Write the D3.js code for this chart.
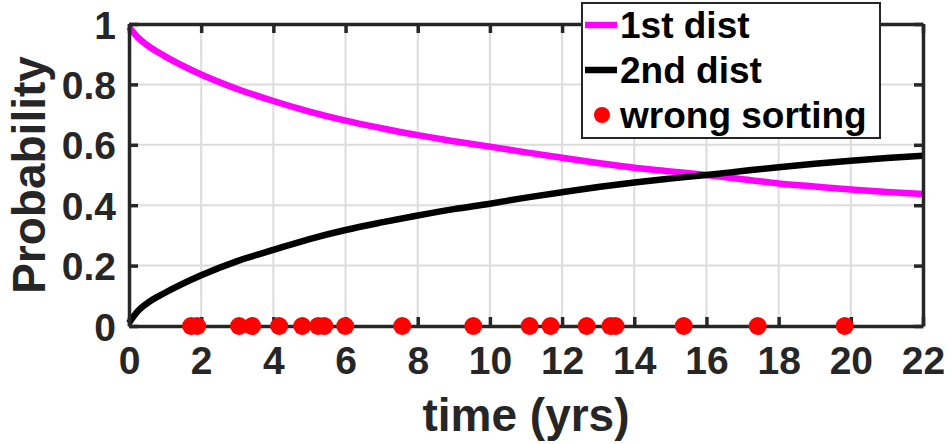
<!DOCTYPE html>
<html>
<head>
<meta charset="utf-8">
<script src="https://cdn.jsdelivr.net/npm/d3@7"></script>
<style>
  body { margin: 0; background: #fff; }
  svg { display: block; }
</style>
</head>
<body>
<div id="chart"></div>
<script>
// values
let times = [0, 0.25, 0.5, 1, 2, 3, 4, 5, 6, 7, 8, 9, 10, 11, 12, 13, 14, 15, 16, 17, 18, 19, 20, 21, 22];
let first_dist = [0.99, 0.955, 0.93, 0.893, 0.833, 0.785, 0.745, 0.71, 0.68, 0.655, 0.632, 0.612, 0.594, 0.575, 0.557, 0.54, 0.524, 0.512, 0.5, 0.486, 0.472, 0.462, 0.452, 0.444, 0.437];
let second_dist = [0.01, 0.05, 0.075, 0.11, 0.168, 0.215, 0.252, 0.288, 0.318, 0.343, 0.366, 0.387, 0.405, 0.425, 0.443, 0.46, 0.475, 0.488, 0.5, 0.513, 0.526, 0.537, 0.547, 0.556, 0.564];
let wrong_sorting = [1.72, 1.89, 3.05, 3.41, 4.16, 4.8, 5.24, 5.41, 5.99, 7.57, 9.54, 11.1, 11.68, 12.68, 13.34, 13.48, 15.37, 17.42, 19.83];
let x_ticks = [0, 2, 4, 6, 8, 10, 12, 14, 16, 18, 20, 22];
let y_ticks = [0, 0.2, 0.4, 0.6, 0.8, 1];
let legend_labels = ["1st dist", "2nd dist", "wrong sorting"];

let width = 952, height = 444;
let plot = { left: 129, right: 923, top: 24, bottom: 326 };
let axis_color = "#262626";
let font = "'Liberation Sans', Arial, Helvetica, sans-serif";

let x = d3.scaleLinear().domain([0, 22]).range([plot.left, plot.right]);
let y = d3.scaleLinear().domain([0, 1]).range([plot.bottom, plot.top]);

let svg = d3.select("#chart").append("svg")
    .attr("width", width)
    .attr("height", height);

// grid
svg.append("g")
    .selectAll("line")
    .data(x_ticks.slice(1, -1))
    .enter()
    .append("line")
    .attr("x1", x).attr("x2", x)
    .attr("y1", plot.top).attr("y2", plot.bottom)
    .style("stroke", "#dcdcdc")
    .style("stroke-width", 2);
svg.append("g")
    .selectAll("line")
    .data(y_ticks.slice(1, -1))
    .enter()
    .append("line")
    .attr("x1", plot.left).attr("x2", plot.right)
    .attr("y1", y).attr("y2", y)
    .style("stroke", "#dcdcdc")
    .style("stroke-width", 2);

// curves
let line = function (values) {
    return d3.line()
        .x((d, i) => x(times[i]))
        .y(d => y(d))
        .curve(d3.curveMonotoneX)(values);
};
svg.append("path")
    .attr("d", line(first_dist))
    .style("fill", "none")
    .style("stroke", "#ff00ff")
    .style("stroke-width", 6.5);
svg.append("path")
    .attr("d", line(second_dist))
    .style("fill", "none")
    .style("stroke", "#000000")
    .style("stroke-width", 6.5);

// axes, ticks inside, box on
let tick_len = 9;
let bottom = svg.append("g")
    .attr("transform", "translate(0," + plot.bottom + ")")
    .call(d3.axisBottom(x).tickValues(x_ticks).tickSizeInner(-tick_len).tickSizeOuter(0).tickPadding(20));
let top_axis = svg.append("g")
    .attr("transform", "translate(0," + plot.top + ")")
    .call(d3.axisTop(x).tickValues(x_ticks).tickSizeInner(-tick_len).tickSizeOuter(0).tickFormat(""));
let left = svg.append("g")
    .attr("transform", "translate(" + plot.left + ",0)")
    .call(d3.axisLeft(y).tickValues(y_ticks).tickSizeInner(-tick_len).tickSizeOuter(0).tickPadding(13).tickFormat(d3.format("~g")));
let right_axis = svg.append("g")
    .attr("transform", "translate(" + plot.right + ",0)")
    .call(d3.axisRight(y).tickValues(y_ticks).tickSizeInner(-tick_len).tickSizeOuter(0).tickFormat(""));

[bottom, top_axis, left, right_axis].forEach(function (g) {
    g.select(".domain").style("stroke", axis_color).style("stroke-width", 3.5);
    g.selectAll(".tick line").style("stroke", axis_color).style("stroke-width", 3.5);
    g.selectAll(".tick text")
        .style("fill", axis_color)
        .attr("font-family", font)
        .attr("font-weight", "bold")
        .attr("font-size", "39px");
});
bottom.selectAll(".tick text").attr("dy", "0.72em");
left.selectAll(".tick text").attr("dy", "0.36em");

// wrong sorting markers
svg.append("g")
    .selectAll("circle")
    .data(wrong_sorting)
    .enter()
    .append("circle")
    .attr("cx", d => x(d))
    .attr("cy", y(0))
    .attr("r", 9)
    .style("fill", "#ff0000");

// axis labels
svg.append("text")
    .attr("x", (plot.left + plot.right) / 2)
    .attr("y", 431)
    .attr("text-anchor", "middle")
    .attr("font-family", font)
    .attr("font-weight", "bold")
    .attr("font-size", "46px")
    .style("fill", axis_color)
    .text("time (yrs)");
svg.append("text")
    .attr("transform", "translate(45," + ((plot.top + plot.bottom) / 2) + ") rotate(-90)")
    .attr("text-anchor", "middle")
    .attr("font-family", font)
    .attr("font-weight", "bold")
    .attr("font-size", "46px")
    .style("fill", axis_color)
    .text("Probability");

// legend
let legend = svg.append("g");
legend.append("rect")
    .attr("x", 582).attr("y", 3)
    .attr("width", 298).attr("height", 135)
    .style("fill", "#fff")
    .style("stroke", axis_color)
    .style("stroke-width", 2);
let rows = [25, 70, 115];
legend.append("line")
    .attr("x1", 585).attr("x2", 617)
    .attr("y1", rows[0]).attr("y2", rows[0])
    .style("stroke", "#ff00ff").style("stroke-width", 6.5);
legend.append("line")
    .attr("x1", 585).attr("x2", 617)
    .attr("y1", rows[1]).attr("y2", rows[1])
    .style("stroke", "#000").style("stroke-width", 6.5);
legend.append("circle")
    .attr("cx", 602).attr("cy", rows[2])
    .attr("r", 8)
    .style("fill", "#ff0000");
legend.selectAll("text")
    .data(legend_labels)
    .enter()
    .append("text")
    .attr("x", 620)
    .attr("y", (d, i) => rows[i])
    .attr("dy", "0.36em")
    .attr("font-family", font)
    .attr("font-weight", "bold")
    .attr("font-size", "37px")
    .style("fill", "#000")
    .text(d => d);
</script>
</body>
</html>
